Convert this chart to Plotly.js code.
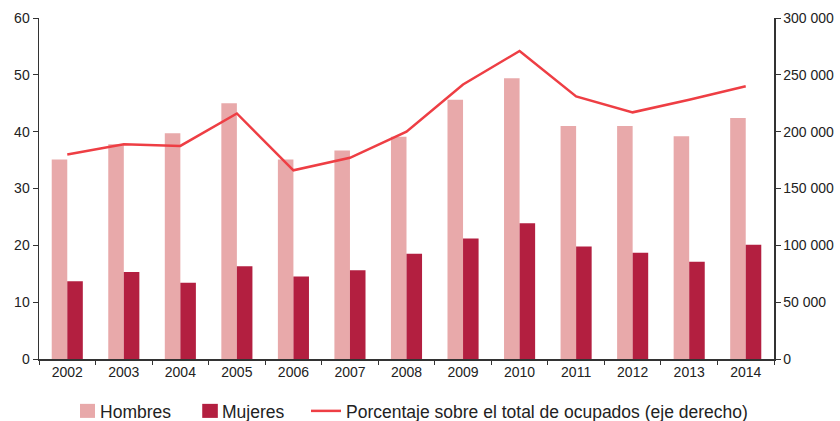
<!DOCTYPE html>
<html>
<head>
<meta charset="utf-8">
<script src="https://cdn.plot.ly/plotly-3.0.1.min.js"></script>
<style>html,body{margin:0;padding:0;background:#fff;}#chart{width:840px;height:421px;}</style>
</head>
<body>
<div id="chart"></div>
<script>
const years = ["2002","2003","2004","2005","2006","2007","2008","2009","2010","2011","2012","2013","2014"];
const hombres = [35.1, 37.8, 39.7, 45.0, 35.1, 36.7, 39.1, 45.6, 49.4, 41.0, 41.0, 39.2, 42.4];
const mujeres = [13.7, 15.3, 13.4, 16.3, 14.5, 15.6, 18.5, 21.2, 23.9, 19.8, 18.7, 17.1, 20.1];
const porcentaje = [180000, 189000, 187500, 216000, 166000, 177000, 200000, 241500, 271000, 231000, 217000, 228000, 240000];
const rightTickVals = [0, 50000, 100000, 150000, 200000, 250000, 300000];
const rightTickText = ["0", "50 000", "100 000", "150 000", "200 000", "250 000", "300 000"];
const seriesNames = ["Hombres", "Mujeres", "Porcentaje sobre el total de ocupados (eje derecho)"];

const tickFont = {family: "Liberation Sans, Arial, sans-serif", size: 14, color: "#222"};
const legFont = {family: "Liberation Sans, Arial, sans-serif", size: 17.5, color: "#222"};

const traces = [
  {type: "bar", name: seriesNames[0], x: years, y: hombres, marker: {color: "#E8A9AA"}, legend: "legend"},
  {type: "bar", name: seriesNames[1], x: years, y: mujeres, marker: {color: "#B31F40"}, legend: "legend2"},
  {type: "scatter", mode: "lines", name: seriesNames[2],
   x: years, y: porcentaje, yaxis: "y2", line: {color: "#EE3E44", width: 2.5}, legend: "legend3"}
];

function leg(x) {
  return {orientation: "h", x: x, xanchor: "left", y: -0.1525, yanchor: "middle",
          font: legFont, bgcolor: "rgba(0,0,0,0)", itemwidth: 30};
}

const layout = {
  width: 840, height: 421,
  margin: {l: 39, r: 66, t: 18, b: 62, autoexpand: false},
  paper_bgcolor: "#fff", plot_bgcolor: "#fff",
  barmode: "group", bargap: 0.45, bargroupgap: 0,
  showlegend: true,
  legend: leg(0.0286),
  legend2: leg(0.1946),
  legend3: leg(0.3633),
  xaxis: {type: "category", tickson: "boundaries", ticks: "outside", ticklen: 4, tickcolor: "#333",
          showline: true, linecolor: "#333", linewidth: 1.5, showgrid: false, tickfont: tickFont, zeroline: false},
  yaxis: {range: [0, 60], dtick: 10, ticks: "outside", ticklen: 5, tickcolor: "#333",
          showline: true, linecolor: "#333", linewidth: 1.5, showgrid: false, zeroline: false, tickfont: tickFont},
  yaxis2: {overlaying: "y", side: "right", range: [0, 300000], tickvals: rightTickVals, ticktext: rightTickText,
           ticks: "outside", ticklen: 5, tickcolor: "#333", showline: true, linecolor: "#333", linewidth: 1.5,
           showgrid: false, zeroline: false, tickfont: tickFont}
};

// legend symbols: slightly larger squares placed close to their labels, as in the original
const symbolTransforms = [
  "translate(27.5,0) scale(1.25,1.17) translate(-20,0)",
  "translate(28,0) scale(1.3,1.17) translate(-20,0)",
  null
];
function styleLegend() {
  Array.from(document.querySelectorAll("#chart text")).forEach(function (t) {
    const idx = seriesNames.indexOf(t.textContent);
    if (idx < 0 || !symbolTransforms[idx]) return;
    const layers = t.parentNode.querySelector("g.layers");
    if (layers) layers.setAttribute("transform", symbolTransforms[idx]);
  });
}

const gd = document.getElementById("chart");
Plotly.newPlot(gd, traces, layout, {displayModeBar: false, staticPlot: true}).then(styleLegend);
</script>
</body>
</html>
